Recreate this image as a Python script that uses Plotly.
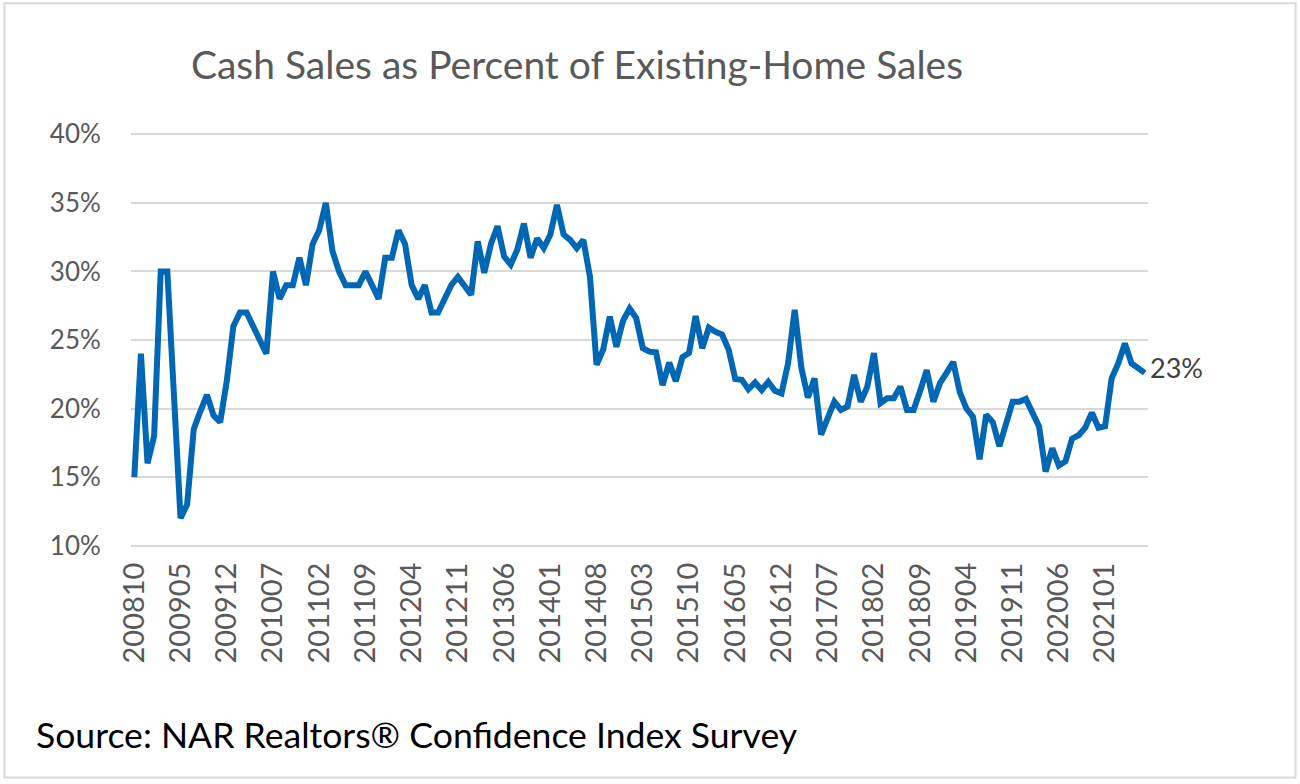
import plotly.graph_objects as go

# ---- data -------------------------------------------------------------
start_year = 2008
start_month = 10
n_months = 154
months = []
y, m = start_year, start_month
for _ in range(n_months):
    months.append(f"{y}{m:02d}")
    m += 1
    if m > 12:
        m = 1
        y += 1

cash_share = [
    15, 24, 16, 18, 30, 30, 21, 12, 13, 18.5,
    19.8, 21, 19.5, 19, 22, 26, 27, 27, 26, 25,
    24, 30, 28, 29, 29, 31, 29, 32, 33, 35,
    31.5, 30, 29, 29, 29, 30, 29, 28, 31, 31,
    33, 32, 29, 28, 29, 27, 27, 28, 29, 29.6,
    29, 28.3, 32.2, 29.9, 32, 33.3, 31.1, 30.5, 31.6, 33.5,
    31, 32.4, 31.7, 32.7, 34.85, 32.7, 32.3, 31.7, 32.3, 29.6,
    23.2, 24.3, 26.7, 24.5, 26.4, 27.3, 26.6, 24.4, 24.15, 24.1,
    21.7, 23.35, 22, 23.75, 24.05, 26.75, 24.4, 25.9, 25.6, 25.4,
    24.3, 22.15, 22.1, 21.4, 21.9, 21.35, 21.95, 21.3, 21.1, 23.3,
    27.2, 23, 20.8, 22.2, 18.1, 19.3, 20.5, 19.9, 20.15, 22.45,
    20.5, 21.6, 24.05, 20.4, 20.75, 20.75, 21.6, 19.9, 19.9, 21.3,
    22.8, 20.5, 21.85, 22.6, 23.4, 21.2, 20, 19.4, 16.3, 19.55,
    19, 17.25, 18.95, 20.5, 20.5, 20.7, 19.7, 18.7, 15.4, 17.1,
    15.85, 16.15, 17.8, 18.05, 18.6, 19.7, 18.6, 18.7, 22.2, 23.3,
    24.75, 23.3, 22.95, 22.6,
]

x_tick_labels = [
    "200810", "200905", "200912", "201007", "201102", "201109", "201204",
    "201211", "201306", "201401", "201408", "201503", "201510", "201605",
    "201612", "201707", "201802", "201809", "201904", "201911", "202006",
    "202101",
]
y_tick_vals = [10, 15, 20, 25, 30, 35, 40]
y_tick_text = ["10%", "15%", "20%", "25%", "30%", "35%", "40%"]

title_text = "Cash Sales as Percent of Existing-Home Sales"
source_text = "Source: NAR Realtors® Confidence Index Survey"
end_label = "23%"

# ---- figure -----------------------------------------------------------
W, H = 1300, 784
Y_LO, Y_HI = 9.9, 40.1
px_per_unit = (546.0 - 134.3) / 30.0
L, R = 130.7, 151.7
T = 134.3 - (Y_HI - 40) * px_per_unit
B = (H - 546.0) - (10 - Y_LO) * px_per_unit
pw = W - L - R
ph = H - T - B

def px_x(p):
    return (p - L) / pw

def px_y(p):
    return (H - B - p) / ph

FONT = "Lato, Calibri, 'Open Sans', sans-serif"
GRAY = "#595959"

fig = go.Figure()
fig.add_trace(go.Scatter(
    x=months, y=cash_share, mode="lines",
    line=dict(color="#0067B4", width=6),
    hoverinfo="skip", showlegend=False,
))

fig.update_layout(
    width=W, height=H,
    margin=dict(l=L, r=R, t=T, b=B, pad=0),
    paper_bgcolor="white", plot_bgcolor="white",
    font=dict(family=FONT, color=GRAY),
    title=dict(
        text=title_text, xref="container", yref="container",
        x=577 / W, y=1 - 65 / H, xanchor="center", yanchor="middle",
        font=dict(family=FONT, size=39, color=GRAY),
    ),
    xaxis=dict(
        type="category", categoryorder="array", categoryarray=months,
        range=[-0.5, n_months - 0.5],
        tickmode="array", tickvals=x_tick_labels, ticktext=x_tick_labels,
        tickangle=-90, tickfont=dict(family=FONT, size=29, color=GRAY),
        ticks="outside", ticklen=3, tickcolor="rgba(0,0,0,0)",
        showgrid=False, showline=False, zeroline=False, fixedrange=True,
    ),
    yaxis=dict(
        range=[Y_LO, Y_HI],
        tickmode="array", tickvals=y_tick_vals, ticktext=y_tick_text,
        tickfont=dict(family=FONT, size=26, color=GRAY),
        ticks="outside", ticklen=24, tickcolor="rgba(0,0,0,0)",
        showgrid=True, gridcolor="#D9D9D9", gridwidth=2,
        zeroline=False, showline=False, fixedrange=True,
    ),
)

fig.add_annotation(
    x=px_x(1148), y=cash_share[-1], xref="paper", yref="y",
    text=end_label, showarrow=False, xanchor="left", yanchor="middle",
    yshift=5,
    font=dict(family=FONT, size=27, color="#404040"),
)

fig.add_annotation(
    x=px_x(34), y=px_y(735), xref="paper", yref="paper",
    text=source_text, showarrow=False, xanchor="left", yanchor="middle",
    font=dict(family=FONT, size=35.6, color="#000000"),
)

fig.add_shape(
    type="rect", xref="paper", yref="paper",
    x0=px_x(4), x1=px_x(1296), y0=px_y(778), y1=px_y(3),
    line=dict(color="#D9D9D9", width=2), fillcolor="rgba(0,0,0,0)",
    layer="below",
)

fig.write_html(
    "out.html",
    config={"displayModeBar": False},
    post_script="document.body.style.margin='0px';document.body.style.overflow='hidden';",
)
